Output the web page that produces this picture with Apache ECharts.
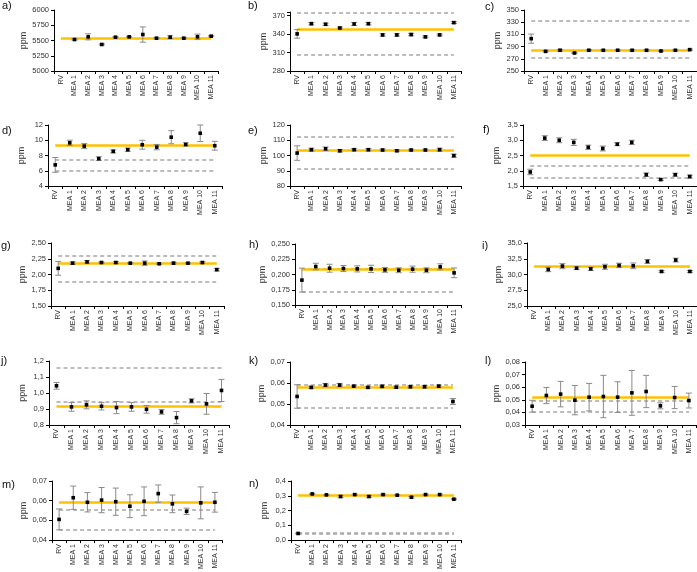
<!DOCTYPE html>
<html>
<head>
<meta charset="utf-8">
<script src="https://cdn.jsdelivr.net/npm/echarts@6/dist/echarts.min.js"></script>
<style>
html, body { margin: 0; padding: 0; background: #fff; }
#chart { width: 697px; height: 572px; }
</style>
</head>
<body>
<div id="chart"></div>
<script>
// categories on every panel
var categories = ['RV', 'MEA 1', 'MEA 2', 'MEA 3', 'MEA 4', 'MEA 5', 'MEA 6', 'MEA 7', 'MEA 8', 'MEA 9', 'MEA 10', 'MEA 11'];
var panelLetters = ['a', 'b', 'c', 'd', 'e', 'f', 'g', 'h', 'i', 'j', 'k', 'l', 'm', 'n'];

// mean values and error (half length) per panel
var meanA = [null, 5516, 5560, 5435, 5554, 5560, 5598, 5538, 5554, 5538, 5560, 5571];
var errA  = [null, 10, 50, 10, 8, 8, 125, 10, 25, 8, 45, 8];
var meanB = [340.4, 357, 356, 350, 356.5, 357, 338.7, 338.7, 339.3, 335.5, 338.7, 358.7];
var errB  = [7, 2, 2, 1.5, 2.5, 2, 2, 2, 2, 1.5, 1.5, 1.5];
var meanC = [303, 282.2, 284, 279.5, 284, 284, 284, 284, 284, 282.8, 284, 285];
var errC  = [7.5, 1, 1.5, 1, 1, 1, 1, 1, 1, 1, 1, 1];
var meanD = [6.77, 9.66, 9.23, 7.59, 8.54, 8.76, 9.41, 9.1, 10.4, 9.45, 10.92, 9.28];
var errD  = [0.97, 0.35, 0.33, 0.24, 0.2, 0.22, 0.58, 0.35, 0.86, 0.22, 1.08, 0.58];
var meanE = [101.6, 103.8, 104.4, 103.1, 103.8, 103.8, 103.6, 103.1, 103.6, 103.6, 103.8, 99.9];
var errE  = [4.75, 1, 1.2, 0.8, 0.7, 0.8, 0.6, 0.6, 0.5, 0.5, 1, 1];
var meanF = [1.96, 3.07, 3.0, 2.93, 2.77, 2.73, 2.87, 2.93, 1.87, 1.71, 1.87, 1.81];
var errF  = [0.09, 0.08, 0.08, 0.1, 0.07, 0.08, 0.05, 0.07, 0.06, 0.03, 0.05, 0.05];
var meanG = [2.098, 2.18, 2.2, 2.19, 2.19, 2.18, 2.18, 2.17, 2.18, 2.18, 2.19, 2.077];
var errG  = [0.11, 0.02, 0.02, 0.01, 0.015, 0.01, 0.035, 0.01, 0.015, 0.01, 0.015, 0.02];
var meanH = [0.1908, 0.213, 0.2103, 0.2098, 0.2092, 0.2092, 0.2076, 0.207, 0.2087, 0.207, 0.2125, 0.2027];
var errH  = [0.0196, 0.0054, 0.0065, 0.005, 0.005, 0.006, 0.004, 0.004, 0.005, 0.004, 0.005, 0.008];
var meanI = [null, 30.8, 31.33, 31.0, 30.9, 31.22, 31.44, 31.38, 32.07, 30.48, 32.29, 30.48];
var errI  = [null, 0.35, 0.4, 0.2, 0.25, 0.4, 0.35, 0.45, 0.3, 0.15, 0.3, 0.15];
var meanJ = [1.045, 0.913, 0.926, 0.917, 0.909, 0.913, 0.898, 0.882, 0.846, 0.951, 0.932, 1.016];
var errJ  = [0.021, 0.027, 0.025, 0.023, 0.038, 0.027, 0.024, 0.015, 0.038, 0.013, 0.065, 0.069];
var meanK = [0.0536, 0.0579, 0.059, 0.059, 0.0585, 0.0579, 0.0584, 0.058, 0.0582, 0.0582, 0.0585, 0.0512];
var errK  = [0.0056, 0.0006, 0.0008, 0.0008, 0.0004, 0.0005, 0.0006, 0.0005, 0.0005, 0.0006, 0.0005, 0.0014];
var meanL = [0.0449, 0.0534, 0.0545, 0.0497, 0.0521, 0.0526, 0.0521, 0.0555, 0.0566, 0.0452, 0.0518, 0.0494];
var errL  = [0.0047, 0.0064, 0.0101, 0.0116, 0.0109, 0.0168, 0.0122, 0.0178, 0.0128, 0.0024, 0.0088, 0.0059];
var meanM = [0.0505, 0.0615, 0.0592, 0.0603, 0.0595, 0.0572, 0.0597, 0.0636, 0.0584, 0.0546, 0.0589, 0.0592];
var errM  = [0.0053, 0.0059, 0.0049, 0.0064, 0.0069, 0.0058, 0.0073, 0.0044, 0.0045, 0.0016, 0.0081, 0.005];
var meanN = [0.045, 0.3126, 0.306, 0.295, 0.308, 0.295, 0.308, 0.304, 0.29, 0.308, 0.308, 0.277];
var errN  = [0.002, 0.003, 0.003, 0.008, 0.004, 0.007, 0.003, 0.003, 0.005, 0.003, 0.003, 0.004];

// assigned value (yellow) and tolerance limits (dashed)
var refValue  = [5545, 348, 284, 9.32, 103.4, 2.5, 2.18, 0.208, 31.3, 0.92, 0.058, 0.0523, 0.0592, 0.302];
var limitHigh = [null, 374, 333, 7.4, 112, 2.16, 2.3, 0.209, null, 1.155, 0.0592, 0.0496, 0.0556, 0.0495];
var limitLow  = [null, 306, 272.5, 6.0, 91.6, 1.77, 1.88, 0.171, null, 0.945, 0.0484, 0.0405, 0.0455, 0.0405];

// y axis ticks
var yMin = [5000, 280, 250, 4, 80, 1.5, 1.5, 0.15, 25, 0.8, 0.04, 0.03, 0.04, 0];
var yMax = [6000, 376, 350, 12, 120, 3.5, 2.5, 0.25, 35, 1.2, 0.07, 0.08, 0.07, 0.4];
var yStep = [250, 30, 20, 2, 10, 0.5, 0.25, 0.025, 2.5, 0.1, 0.01, 0.01, 0.01, 0.1];
var yDecimals = [0, 0, 0, 0, 0, 1, 2, 3, 1, 1, 2, 2, 2, 1];

var means = [meanA, meanB, meanC, meanD, meanE, meanF, meanG, meanH, meanI, meanJ, meanK, meanL, meanM, meanN];
var errs = [errA, errB, errC, errD, errE, errF, errG, errH, errI, errJ, errK, errL, errM, errN];

// layout: [left, top, width, height] of each plot area
var gridBoxes = [
	[54, 10, 164, 61], [290, 12, 171, 59], [524, 10, 173, 61],
	[48, 125, 174, 61], [290, 125, 171, 61], [523, 125, 174, 61],
	[51, 243, 173, 63], [295, 244, 166, 61], [527, 243, 170, 63],
	[49, 361, 180, 64], [290, 362, 170, 63], [525, 362, 171, 63],
	[52, 481, 170, 61], [291, 481, 170, 61]
];
// position of the panel letters
var letterPos = [
	[2, 7], [248, 7], [485, 8], [2, 132], [248, 132], [483, 131], [1, 247],
	[249, 246], [482, 247], [1, 362], [249, 362], [485, 362], [2, 486], [249, 485]
];

var FONT = 'Arial, "Liberation Sans", sans-serif';

function renderErrorBar(params, api) {
	var mean = api.value(1);
	var err = api.value(2);
	var c = api.coord([api.value(0), mean]);
	var top = api.coord([api.value(0), mean + err]);
	var bot = api.coord([api.value(0), mean - err]);
	var cap = 3;
	var barStyle = { stroke: '#8a8a8a', lineWidth: 1 };
	return {
		type: 'group',
		children: [
			{ type: 'line', shape: { x1: c[0], y1: top[1], x2: c[0], y2: bot[1] }, style: barStyle },
			{ type: 'line', shape: { x1: c[0] - cap, y1: top[1], x2: c[0] + cap, y2: top[1] }, style: barStyle },
			{ type: 'line', shape: { x1: c[0] - cap, y1: bot[1], x2: c[0] + cap, y2: bot[1] }, style: barStyle },
			{ type: 'rect', shape: { x: c[0] - 1.8, y: c[1] - 1.8, width: 3.6, height: 3.6 }, style: { fill: '#000' } }
		]
	};
}

var grids = [], xAxes = [], yAxes = [], series = [], graphics = [];

for (var p = 0; p < panelLetters.length; p++) {
	var box = gridBoxes[p];
	grids.push({ left: box[0], top: box[1], width: box[2], height: box[3], containLabel: false });

	xAxes.push({
		type: 'category', gridIndex: p, data: categories, boundaryGap: true,
		axisLine: { lineStyle: { color: '#000', width: 1 } },
		axisTick: { show: true, length: 3, lineStyle: { color: '#000' } },
		axisLabel: { rotate: 90, interval: 0, fontSize: 7, color: '#333', margin: 4, fontFamily: FONT },
		splitLine: { show: false }
	});

	(function(dec, mn, st) {
		yAxes.push({
			type: 'value', gridIndex: p, min: mn, max: yMax[p], interval: st,
			name: 'ppm', nameLocation: 'middle', nameGap: 22,
			nameTextStyle: { fontSize: 9, color: '#333', fontFamily: FONT },
			axisLine: { show: true, lineStyle: { color: '#000', width: 1 } },
			axisTick: { show: true, length: 3, lineStyle: { color: '#000' } },
			splitLine: { show: false },
			axisLabel: {
				fontSize: 7.5, color: '#333', margin: 5, fontFamily: FONT,
				formatter: function(v) {
					var k = (v - mn) / st;
					if (Math.abs(k - Math.round(k)) > 1e-6) return '';
					return v.toFixed(dec).replace('.', ',');
				}
			}
		});
	})(yDecimals[p], yMin[p], yStep[p]);

	var data = [];
	for (var i = 0; i < categories.length; i++) {
		if (means[p][i] != null) data.push([i, means[p][i], errs[p][i]]);
	}

	var lines = [];
	if (limitHigh[p] != null) {
		[limitHigh[p], limitLow[p]].forEach(function(v) {
			lines.push([
				{ coord: [categories[0], v], lineStyle: { color: '#a6a6a6', width: 1.5, type: [4, 3] } },
				{ coord: [categories[categories.length - 1], v] }
			]);
		});
	}
	lines.push([
		{ coord: [categories[0], refValue[p]], lineStyle: { color: '#FFC000', width: 2.5, type: 'solid' } },
		{ coord: [categories[categories.length - 1], refValue[p]] }
	]);

	series.push({
		type: 'custom', xAxisIndex: p, yAxisIndex: p, z: 10,
		renderItem: renderErrorBar, encode: { x: 0, y: 1 },
		data: data, animation: false, clip: false,
		markLine: {
			silent: true, symbol: 'none', animation: false, z: 3,
			label: { show: false },
			data: lines
		}
	});

	graphics.push({
		type: 'text', left: letterPos[p][0], top: letterPos[p][1] - 7,
		style: { text: panelLetters[p] + ')', fontSize: 11, fill: '#111', font: '11px ' + FONT }
	});
}

var myChart = echarts.init(document.getElementById('chart'));
myChart.setOption({
	animation: false,
	backgroundColor: '#fff',
	grid: grids,
	xAxis: xAxes,
	yAxis: yAxes,
	series: series,
	graphic: graphics
});
</script>
</body>
</html>
